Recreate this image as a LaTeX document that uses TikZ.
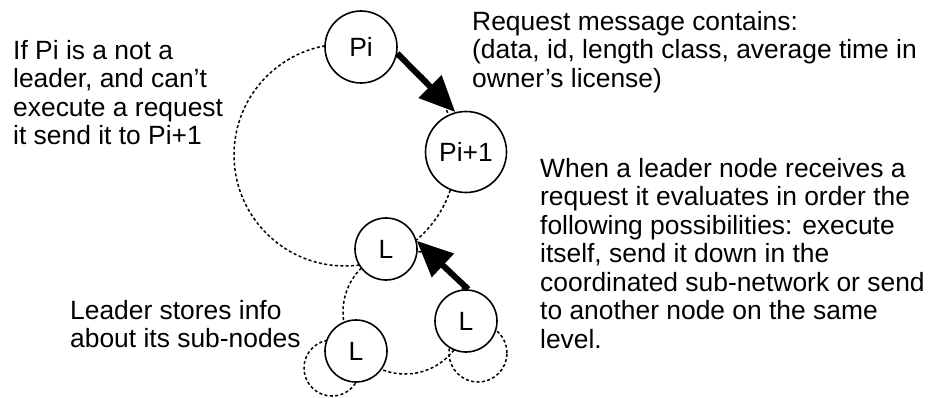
\documentclass[tikz,border=0pt]{standalone}
\usepackage{fontspec}
\setmainfont{Liberation Sans}
\usetikzlibrary{arrows.meta}
\begin{document}
\begin{tikzpicture}[x=1pt,y=1pt,
  proc/.style={circle,draw,line width=1.6pt,fill=white,inner sep=0pt,font=\fontsize{26.4}{28.5}\selectfont},
  ring/.style={draw,line width=1.5pt,dash pattern=on 3pt off 2.4pt},
  msg/.style={line width=6pt,-{Triangle[length=36pt,width=31pt]}},
  note/.style={anchor=north west,inner sep=0pt,align=left,font=\fontsize{26.4}{28.5}\selectfont}]
\useasboundingbox (0,0) rectangle (930,397);
% rings
\draw[ring] (345,242) circle[radius=111];
\draw[ring] (405,85) circle[radius=62];
\draw[ring] (332,29) circle[radius=28];
\draw[ring] (478,44) circle[radius=29];
% nodes
\node[proc,minimum size=72pt] (pi) at (361,350) {Pi};
\node[proc,minimum size=81pt] (pi1) at (466,245) {Pi+1};
\node[proc,minimum size=62pt] (l1) at (386,148) {L};
\node[proc,minimum size=62pt] (l2) at (466,76) {L};
\node[proc,minimum size=62pt] (l3) at (356,46) {L};
% arrows
\draw[msg] (pi.-10) -- (pi1.105);
\draw[msg] (l2.86) -- (l1.15);
% notes
\node[note] (t1) at (13,357) {If Pi is a not a\\leader, and can’t\\execute a request\\it send it to Pi+1};
\node[note] (t2) at (472,386) {Request message contains:\\(data, id, length class, average time in\\owner’s license)};
\node[note] (t3) at (540,239) {When a leader node receives a\\request it evaluates in order the\\following possibilities: execute\\itself, send it down in the\\coordinated sub-network or send\\to another node on the same\\level.};
\node[note] (t4) at (70,97) {Leader stores info\\about its sub-nodes};
\end{tikzpicture}
\end{document}
